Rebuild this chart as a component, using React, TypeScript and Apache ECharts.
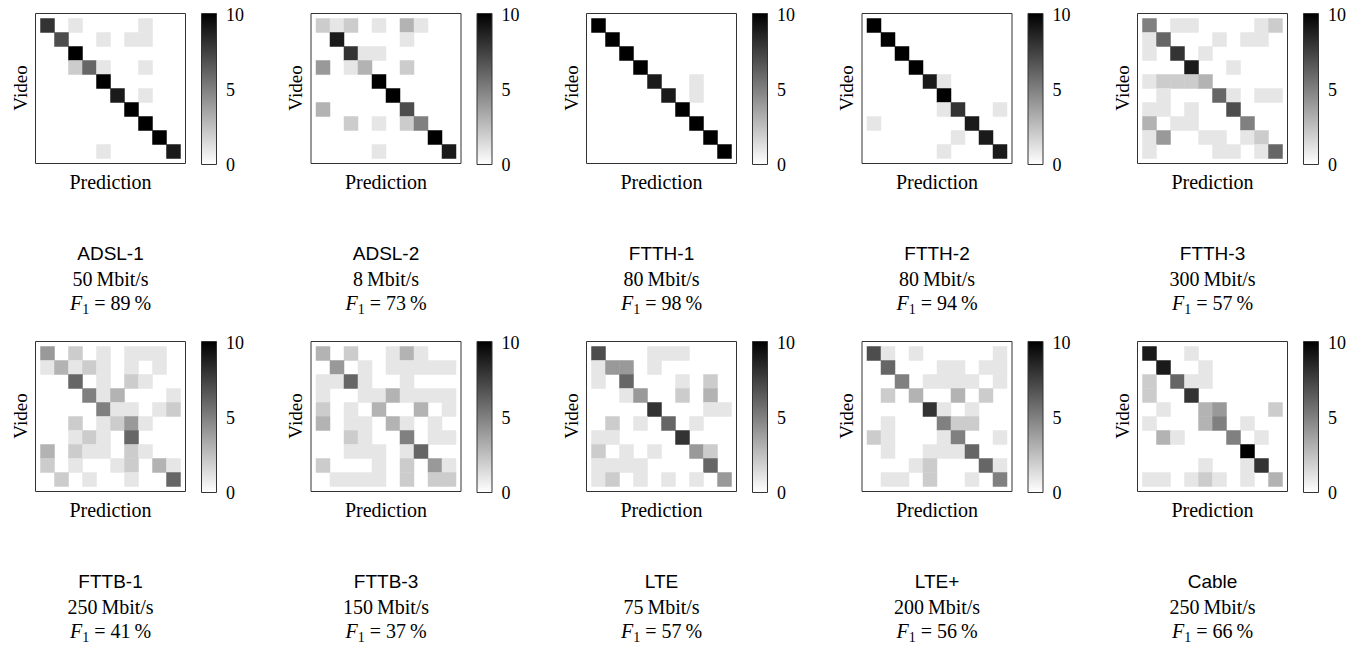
import React, { useEffect, useRef } from 'react';
import * as echarts from 'echarts';

const NAMES = ['ADSL-1', 'ADSL-2', 'FTTH-1', 'FTTH-2', 'FTTH-3', 'FTTB-1', 'FTTB-3', 'LTE', 'LTE+', 'Cable'];
const RATES = ['50', '8', '80', '80', '300', '250', '150', '75', '200', '250'];
const F1 = [89, 73, 98, 94, 57, 41, 37, 57, 56, 66];
const CBAR_TICKS = [10, 5, 0];

const ADSL1 = [
  [8, 0, 1, 0, 0, 0, 0, 1, 0, 0],
  [0, 7, 0, 0, 1, 0, 1, 1, 0, 0],
  [0, 0, 10, 0, 0, 0, 0, 0, 0, 0],
  [0, 0, 2, 6, 1, 0, 0, 1, 0, 0],
  [0, 0, 0, 0, 10, 0, 0, 0, 0, 0],
  [0, 0, 0, 0, 0, 9, 0, 1, 0, 0],
  [0, 0, 0, 0, 0, 0, 10, 0, 0, 0],
  [0, 0, 0, 0, 0, 0, 0, 10, 0, 0],
  [0, 0, 0, 0, 0, 0, 0, 0, 10, 0],
  [0, 0, 0, 0, 1, 0, 0, 0, 0, 9],
];
const ADSL2 = [
  [2, 1, 2, 0, 1, 0, 3, 1, 0, 0],
  [0, 9, 0, 0, 0, 0, 1, 0, 0, 0],
  [0, 0, 8, 1, 1, 0, 0, 0, 0, 0],
  [4, 0, 1, 3, 0, 0, 2, 0, 0, 0],
  [0, 0, 0, 0, 10, 0, 0, 0, 0, 0],
  [0, 0, 0, 0, 0, 10, 0, 0, 0, 0],
  [3, 0, 0, 0, 0, 0, 7, 0, 0, 0],
  [0, 0, 2, 0, 1, 0, 2, 5, 0, 0],
  [0, 0, 0, 0, 0, 0, 0, 0, 10, 0],
  [0, 0, 0, 0, 1, 0, 0, 0, 0, 9],
];
const FTTH1 = [
  [10, 0, 0, 0, 0, 0, 0, 0, 0, 0],
  [0, 10, 0, 0, 0, 0, 0, 0, 0, 0],
  [0, 0, 10, 0, 0, 0, 0, 0, 0, 0],
  [0, 0, 0, 10, 0, 0, 0, 0, 0, 0],
  [0, 0, 0, 0, 9, 0, 0, 1, 0, 0],
  [0, 0, 0, 0, 0, 9, 0, 1, 0, 0],
  [0, 0, 0, 0, 0, 0, 10, 0, 0, 0],
  [0, 0, 0, 0, 0, 0, 0, 10, 0, 0],
  [0, 0, 0, 0, 0, 0, 0, 0, 10, 0],
  [0, 0, 0, 0, 0, 0, 0, 0, 0, 10],
];
const FTTH2 = [
  [10, 0, 0, 0, 0, 0, 0, 0, 0, 0],
  [0, 10, 0, 0, 0, 0, 0, 0, 0, 0],
  [0, 0, 10, 0, 0, 0, 0, 0, 0, 0],
  [0, 0, 0, 10, 0, 0, 0, 0, 0, 0],
  [0, 0, 0, 0, 9, 1, 0, 0, 0, 0],
  [0, 0, 0, 0, 0, 10, 0, 0, 0, 0],
  [0, 0, 0, 0, 0, 1, 8, 0, 0, 1],
  [1, 0, 0, 0, 0, 0, 0, 9, 0, 0],
  [0, 0, 0, 0, 0, 0, 1, 0, 9, 0],
  [0, 0, 0, 0, 0, 1, 0, 0, 0, 9],
];
const FTTH3 = [
  [5, 0, 1, 1, 0, 0, 0, 0, 1, 2],
  [1, 6, 0, 0, 0, 1, 0, 1, 1, 0],
  [1, 0, 8, 0, 1, 0, 0, 0, 0, 0],
  [0, 0, 0, 9, 0, 0, 1, 0, 0, 0],
  [1, 2, 2, 2, 3, 0, 0, 0, 0, 0],
  [0, 1, 0, 0, 0, 6, 1, 0, 1, 1],
  [1, 1, 0, 1, 0, 0, 7, 0, 0, 0],
  [3, 0, 1, 1, 0, 0, 0, 5, 0, 0],
  [1, 4, 0, 0, 1, 1, 0, 1, 2, 0],
  [1, 0, 0, 0, 0, 1, 1, 0, 1, 6],
];
const FTTB1 = [
  [4, 0, 2, 0, 1, 0, 1, 1, 1, 0],
  [1, 3, 1, 2, 1, 0, 1, 0, 1, 0],
  [0, 0, 6, 0, 1, 0, 2, 1, 0, 0],
  [0, 0, 0, 5, 1, 3, 0, 0, 0, 1],
  [0, 0, 0, 0, 5, 1, 1, 0, 1, 2],
  [0, 0, 2, 0, 1, 2, 4, 1, 0, 0],
  [0, 0, 1, 2, 1, 0, 6, 0, 0, 0],
  [3, 0, 2, 1, 1, 0, 2, 1, 0, 0],
  [2, 0, 1, 0, 0, 1, 2, 0, 3, 1],
  [0, 2, 0, 1, 0, 0, 1, 0, 0, 6],
];
const FTTB3 = [
  [3, 0, 2, 0, 0, 1, 3, 1, 0, 0],
  [0, 4, 0, 1, 0, 1, 1, 1, 1, 1],
  [1, 1, 6, 1, 0, 0, 1, 0, 0, 0],
  [1, 0, 0, 1, 1, 3, 1, 1, 1, 1],
  [2, 0, 1, 0, 3, 0, 0, 3, 0, 1],
  [3, 0, 1, 1, 0, 3, 1, 0, 1, 0],
  [0, 0, 2, 1, 0, 0, 5, 0, 1, 1],
  [0, 0, 1, 1, 1, 0, 1, 6, 0, 0],
  [2, 0, 0, 0, 1, 0, 2, 0, 4, 1],
  [0, 1, 1, 1, 1, 0, 2, 0, 2, 2],
];
const LTE = [
  [7, 0, 0, 0, 1, 1, 1, 0, 0, 0],
  [1, 4, 4, 0, 1, 0, 0, 0, 0, 0],
  [1, 0, 6, 0, 0, 0, 1, 0, 2, 0],
  [0, 0, 1, 4, 0, 0, 2, 0, 3, 0],
  [0, 0, 0, 0, 8, 0, 0, 0, 1, 1],
  [0, 2, 0, 1, 0, 6, 0, 1, 0, 0],
  [1, 1, 0, 0, 0, 0, 8, 0, 0, 0],
  [2, 0, 1, 0, 1, 0, 0, 4, 2, 0],
  [1, 1, 1, 1, 0, 0, 0, 0, 6, 0],
  [1, 2, 0, 1, 0, 1, 0, 1, 0, 4],
];
const LTEP = [
  [7, 1, 0, 1, 0, 0, 0, 0, 0, 1],
  [0, 6, 0, 0, 0, 1, 1, 0, 1, 1],
  [0, 0, 5, 0, 1, 1, 1, 1, 0, 1],
  [0, 2, 0, 3, 0, 0, 3, 0, 2, 0],
  [0, 0, 0, 0, 8, 1, 0, 1, 0, 0],
  [0, 1, 0, 0, 0, 5, 2, 2, 0, 0],
  [2, 1, 0, 0, 0, 1, 5, 0, 0, 1],
  [0, 1, 0, 0, 1, 1, 1, 6, 0, 0],
  [0, 0, 0, 1, 2, 0, 0, 0, 6, 1],
  [0, 1, 1, 0, 2, 0, 0, 1, 0, 5],
];
const CABLE = [
  [9, 0, 0, 1, 0, 0, 0, 0, 0, 0],
  [0, 9, 0, 0, 1, 0, 0, 0, 0, 0],
  [2, 0, 6, 1, 1, 0, 0, 0, 0, 0],
  [2, 0, 0, 8, 0, 0, 0, 0, 0, 0],
  [0, 1, 0, 0, 3, 4, 0, 0, 0, 2],
  [1, 0, 0, 0, 3, 5, 0, 1, 0, 0],
  [0, 3, 1, 0, 0, 0, 5, 0, 1, 0],
  [0, 0, 0, 0, 0, 0, 0, 10, 0, 0],
  [0, 0, 0, 0, 1, 0, 0, 1, 8, 0],
  [1, 1, 0, 1, 2, 1, 0, 1, 0, 3],
];
const MATRICES = [ADSL1, ADSL2, FTTH1, FTTH2, FTTH3, FTTB1, FTTB3, LTE, LTEP, CABLE];
const IDX = ['0', '1', '2', '3', '4', '5', '6', '7', '8', '9'];

const SERIF = '"Liberation Serif", "Times New Roman", serif';
const SANS = '"Liberation Sans", Arial, sans-serif';

export default function App() {
  const ref = useRef<HTMLDivElement>(null);
  useEffect(() => {
    document.body.style.margin = '0';
    if (!ref.current) return;
    const chart = echarts.init(ref.current, undefined, { renderer: 'svg' });
    const COLW = 275.5;
    const ROWH = 328;
    const grids: any[] = [];
    const xAxes: any[] = [];
    const yAxes: any[] = [];
    const series: any[] = [];
    const graphic: any[] = [];
    const center = { align: 'center', verticalAlign: 'middle', textAlign: 'center', textVerticalAlign: 'middle' };
    MATRICES.forEach((m, k) => {
      const c = k % 5;
      const r = Math.floor(k / 5);
      const ox = c * COLW;
      const oy = r * ROWH;
      grids.push({ left: 40.5 + ox, top: 18.5 + oy, width: 140, height: 140 });
      xAxes.push({ gridIndex: k, type: 'category', data: IDX, show: false });
      yAxes.push({ gridIndex: k, type: 'category', data: IDX, inverse: true, show: false });
      const data: any[] = [];
      m.forEach((row, i) => row.forEach((v, j) => { if (v > 0) data.push([j, i, v]); }));
      series.push({
        type: 'heatmap', xAxisIndex: k, yAxisIndex: k, data,
        itemStyle: { borderWidth: 0 }, emphasis: { disabled: true },
      });
      graphic.push({
        type: 'rect', shape: { x: 35.5 + ox, y: 13.5 + oy, width: 150, height: 150 },
        style: { fill: 'none', stroke: '#333', lineWidth: 1 }, silent: true, z: 10,
      });
      graphic.push({
        type: 'rect', shape: { x: 201.5 + ox, y: 13.5 + oy, width: 15, height: 151 },
        style: {
          fill: new echarts.graphic.LinearGradient(0, 0, 0, 1, [
            { offset: 0, color: '#000000' }, { offset: 1, color: '#ffffff' },
          ]),
          stroke: '#333', lineWidth: 1,
        },
      });
      CBAR_TICKS.forEach((t) => {
        graphic.push({
          type: 'text', x: 226 + ox, y: 15 + oy + (10 - t) / 10 * 150,
          style: { text: String(t), font: `18px ${SERIF}`, fill: '#000', align: 'left', verticalAlign: 'middle', textAlign: 'left', textVerticalAlign: 'middle' },
        });
      });
      const cx = 110.5 + ox;
      graphic.push({
        type: 'text', x: 20 + ox, y: 88 + oy, rotation: Math.PI / 2,
        style: { text: 'Video', font: `19px ${SERIF}`, fill: '#000', ...center },
      });
      graphic.push({
        type: 'text', x: cx, y: 182 + oy,
        style: { text: 'Prediction', font: `20px ${SERIF}`, fill: '#000', ...center },
      });
      graphic.push({
        type: 'text', x: cx, y: 253 + oy,
        style: { text: NAMES[k], font: `19px ${SANS}`, fill: '#000', ...center },
      });
      graphic.push({
        type: 'text', x: cx, y: 279 + oy,
        style: { text: `${RATES[k]}\u2009Mbit/s`, font: `20px ${SERIF}`, fill: '#000', ...center },
      });
      graphic.push({
        type: 'text', x: cx, y: 305 + oy,
        style: {
          text: `{f|F}{s|1}{n| = ${F1[k]}\u2009%}`,
          ...center,
          rich: {
            f: { fontFamily: SERIF, fontSize: 20, fontStyle: 'italic', lineHeight: 24, verticalAlign: 'top', fill: '#000' },
            s: { fontFamily: SERIF, fontSize: 14, lineHeight: 14, padding: [9, 0, 0, 0], verticalAlign: 'top', fill: '#000' },
            n: { fontFamily: SERIF, fontSize: 20, lineHeight: 24, verticalAlign: 'top', fill: '#000' },
          },
        },
      });
    });
    chart.setOption({
      animation: false,
      backgroundColor: '#ffffff',
      grid: grids,
      xAxis: xAxes,
      yAxis: yAxes,
      visualMap: {
        show: false, type: 'continuous', min: 0, max: 10,
        seriesIndex: MATRICES.map((_, i) => i),
        inRange: { color: ['#ffffff', '#000000'] },
      },
      series,
      graphic,
    });
    return () => chart.dispose();
  }, []);
  return <div ref={ref} style={{ width: 1360, height: 653 }} />;
}
